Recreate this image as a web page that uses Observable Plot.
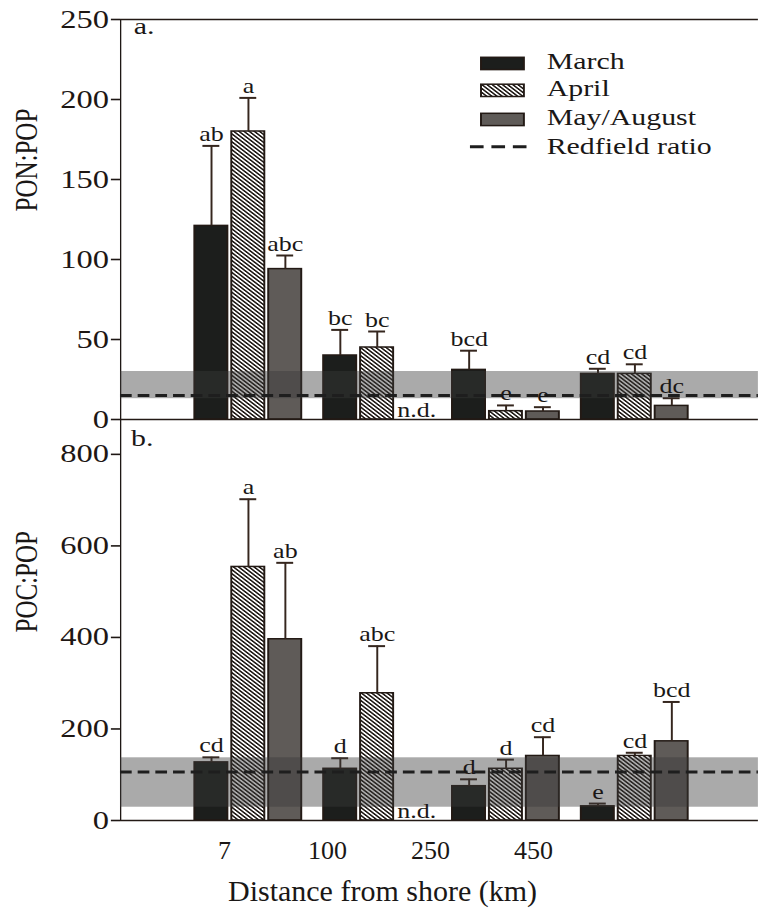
<!DOCTYPE html>
<html><head><meta charset="utf-8">
<script src="https://cdn.jsdelivr.net/npm/d3@7"></script>
<script src="https://cdn.jsdelivr.net/npm/@observablehq/plot@0.6"></script>
<style>
body{margin:0;background:#fff;}
svg{display:block;overflow:visible;}
#panels [aria-label^="y-axis"] path, #panels [aria-label^="y-axis"] line{stroke-width:1.6px;}
</style>
</head><body>
<div id="wrap" style="position:relative;width:758px;height:911px;overflow:hidden">
  <div id="panels" style="position:absolute;left:0;top:0;width:583px;transform:scaleX(1.3);transform-origin:0 0"></div>
  <div id="xaxis" style="position:absolute;left:0;top:828px;width:758px"></div>
</div>
<script>
// ---------- data ----------
const sites = ["7", "100", "250", "450"];
const months = ["March", "April", "May/August"];
const redfieldLabel = "Redfield ratio";
const ndLabel = "n.d.";
const xTitle = "Distance from shore (km)";

// a. PON:POP
const ponMarch = [121, 40, 31, 28.5];
const ponMarchErr = [50, 16, 12, 3.2];
const ponMarchLetters = ["ab", "bc", "bcd", "cd"];
const ponApril = [180, 45, 5.2, 28.5];
const ponAprilErr = [21, 10, 3.6, 6];
const ponAprilLetters = ["a", "bc", "e", "cd"];
const ponMay = [94, null, 5, 8.5];
const ponMayErr = [8.5, null, 2.7, 4.8];
const ponMayLetters = ["abc", null, "e", "dc"];
const ponTicks = [0, 50, 100, 150, 200, 250];
const ponRedfield = 15;
const ponBand = [13, 30];

// b. POC:POP
const pocMarch = [127, 113, 75, 31];
const pocMarchErr = [11, 23, 15, 6];
const pocMarchLetters = ["cd", "d", "d", "e"];
const pocApril = [554, 278, 113, 141];
const pocAprilErr = [148, 103, 20, 7];
const pocAprilLetters = ["a", "abc", "d", "cd"];
const pocMay = [396, null, 141, 173];
const pocMayErr = [167, null, 41, 86];
const pocMayLetters = ["ab", null, "cd", "bcd"];
const pocTicks = [0, 200, 400, 600, 800];
const pocRedfield = 106;
const pocBand = [29, 137];

// ---------- styling ----------
const FONT = "'Liberation Serif', 'Times New Roman', serif";
const TXT = "#1a1716";
const EDGE = "#231a15";
const W = 583, ML = 92.3;
const xRange = [148, 530.5], padIn = 0.14;
const step = (xRange[1] - xRange[0]) / (sites.length - padIn);
const bw = step * (1 - padIn);
const slot = bw / 3;
const barInset = 1.5, capHalf = 6.5;

function buildRows(series) {
  const rows = [];
  series.forEach((s, i) => s.values.forEach((v, j) => rows.push({
    site: sites[j], mi: i, value: v,
    top: v == null ? null : v + s.err[j], letter: s.letters[j]
  })));
  return rows;
}

function panel(o) {
  const rows = buildRows(o.series);
  const fills = ["#1c1e1c", `url(#${o.hatchId})`, "#5f5b58"];
  const marks = [];
  months.forEach((m, i) => {
    const d = rows.filter(r => r.mi === i && r.value != null);
    marks.push(Plot.barY(d, {x: "site", y: "value", fill: fills[i], stroke: EDGE, strokeWidth: 1.5,
      insetLeft: i * slot + barInset, insetRight: (2 - i) * slot + barInset}));
  });
  months.forEach((m, i) => {
    const d = rows.filter(r => r.mi === i && r.value != null);
    const off = (i - 1) * slot;
    marks.push(Plot.ruleX(d, {x: "site", y1: "value", y2: "top", dx: off, stroke: "#35261e", strokeWidth: 1.5}));
    marks.push(Plot.tickY(d, {x: "site", y: "top", stroke: "#35261e", strokeWidth: 2,
      insetLeft: i * slot + slot / 2 - capHalf, insetRight: (2 - i) * slot + slot / 2 - capHalf}));
  });
  // Redfield band (semi-transparent overlay) and ratio line
  marks.push(Plot.rect([{lo: o.band[0], hi: o.band[1]}], {y1: "lo", y2: "hi", fill: "#393939", fillOpacity: 0.43}));
  marks.push(Plot.ruleY([o.redfield], {stroke: "#1e1e1e", strokeWidth: 3, strokeDasharray: "9,4.6"}));
  // frame lines
  marks.push(Plot.ruleY([0], {stroke: EDGE, strokeWidth: 1.6}));
  if (o.topBorder) marks.push(Plot.ruleY([o.domain[1]], {stroke: EDGE, strokeWidth: 1.6}));
  // letters
  months.forEach((m, i) => {
    const d = rows.filter(r => r.mi === i && r.value != null && r.letter);
    marks.push(Plot.text(d, {x: "site", y: "top", text: "letter", dx: (i - 1) * slot, dy: -5,
      lineAnchor: "bottom", fontSize: 20, fill: TXT}));
    const nd = rows.filter(r => r.mi === i && r.value == null);
    marks.push(Plot.text(nd, {x: "site", y: () => 0, text: () => ndLabel, dx: (i - 1) * slot + 2, dy: -2.5,
      lineAnchor: "bottom", fontSize: 20, fill: TXT}));
  });
  marks.push(Plot.text([o.tag], {frameAnchor: "top-left", dx: o.tagDx, dy: o.tagDy, lineAnchor: "top", fontSize: 23, fill: TXT}));
  marks.push(Plot.text([o.ylabel], {frameAnchor: "left", rotate: -90, dx: -72, dy: o.ylabelDy, fontSize: 25, fill: TXT}));

  const svg = Plot.plot({
    width: W, height: o.height,
    marginLeft: ML, marginRight: 0, marginTop: o.marginTop, marginBottom: o.marginBottom,
    x: {domain: sites, range: xRange, paddingInner: padIn, paddingOuter: 0, round: false, axis: null},
    y: {domain: o.domain, ticks: o.ticks, tickSize: 7, tickPadding: 2, line: true, label: null, tickFormat: d => String(d)},
    style: {fontFamily: FONT, fontSize: "25px", background: "transparent", color: "#1e1714", overflow: "visible"},
    marks
  });
  // hatch pattern
  const defs = d3.select(svg).insert("defs", ":first-child");
  const p = defs.append("pattern").attr("id", o.hatchId).attr("patternUnits", "userSpaceOnUse")
    .attr("width", 2.8).attr("height", 2.8).attr("patternTransform", "rotate(-45)");
  p.append("rect").attr("width", 2.8).attr("height", 2.8).attr("fill", "#ffffff");
  p.append("rect").attr("width", 1.35).attr("height", 2.8).attr("fill", "#1a1410");
  return svg;
}

const panelA = panel({
  series: [
    {values: ponMarch, err: ponMarchErr, letters: ponMarchLetters},
    {values: ponApril, err: ponAprilErr, letters: ponAprilLetters},
    {values: ponMay, err: ponMayErr, letters: ponMayLetters}
  ],
  domain: [0, 250], ticks: ponTicks, height: 420, marginTop: 19, marginBottom: 1,
  redfield: ponRedfield, band: ponBand, topBorder: true,
  tag: "a.", tagDx: 10, tagDy: -2, ylabel: "PON:POP", ylabelDy: -8, hatchId: "hatchA"
});
const panelB = panel({
  series: [
    {values: pocMarch, err: pocMarchErr, letters: pocMarchLetters},
    {values: pocApril, err: pocAprilErr, letters: pocAprilLetters},
    {values: pocMay, err: pocMayErr, letters: pocMayLetters}
  ],
  domain: [0, 874], ticks: pocTicks, height: 408, marginTop: 0, marginBottom: 8,
  redfield: pocRedfield, band: pocBand, topBorder: false,
  tag: "b.", tagDx: 8, tagDy: 9, ylabel: "POC:POP", ylabelDy: 12, hatchId: "hatchB"
});

// legend (drawn into panel a)
(function addLegend(svg) {
  const g = d3.select(svg).append("g").attr("font-family", FONT).attr("font-size", 23)
    .attr("fill", TXT).attr("text-anchor", "start");
  const fills = ["#1c1e1c", "url(#hatchA)", "#5f5b58"];
  const rowsY = [57.3, 84.2, 113.3];
  const baseY = [69.3, 96.2, 125.2, 154];
  months.forEach((m, i) => {
    g.append("rect").attr("x", 370).attr("y", rowsY[i]).attr("width", 33).attr("height", 12.3)
      .attr("fill", fills[i]).attr("stroke", EDGE).attr("stroke-width", 1.5);
    g.append("text").attr("x", 420.5).attr("y", baseY[i]).attr("text-anchor", "start").text(m);
  });
  g.append("line").attr("x1", 361.5).attr("x2", 406).attr("y1", 146.7).attr("y2", 146.7)
    .attr("stroke", "#1e1e1e").attr("stroke-width", 3).attr("stroke-dasharray", "10.5,6");
  g.append("text").attr("x", 420.5).attr("y", baseY[3]).attr("text-anchor", "start").text(redfieldLabel);
})(panelA);

document.getElementById("panels").append(panelA, panelB);

// x axis labels and title (not stretched)
const xa = Plot.plot({
  width: 758, height: 83, marginLeft: 223, marginRight: 225, marginTop: 0, marginBottom: 75,
  x: {type: "point", domain: sites, padding: 0, tickSize: 0, tickPadding: 4, label: null},
  style: {fontFamily: FONT, fontSize: "26px", background: "transparent", color: TXT, overflow: "visible"},
  marks: [
    Plot.ruleX(sites, {x: d => d, strokeOpacity: 0}),
    Plot.text([xTitle], {frameAnchor: "bottom", dx: 4, dy: 55, lineAnchor: "middle", fontSize: 30, fill: TXT})
  ]
});
document.getElementById("xaxis").append(xa);
</script>
</body></html>
